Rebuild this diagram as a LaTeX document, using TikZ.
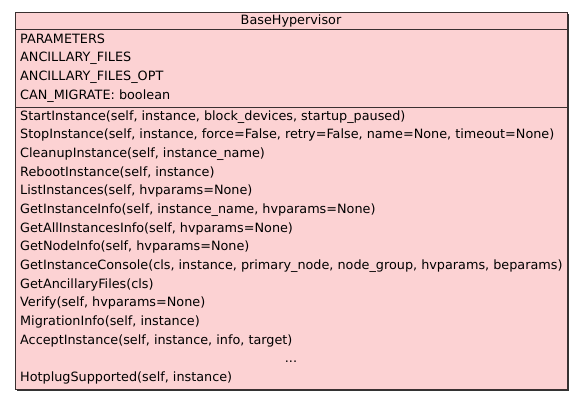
\documentclass[tikz,border=0pt]{standalone}
\usepackage{fontspec}
\setmainfont{DejaVu Sans}
\definecolor{boxfill}{HTML}{FCD2D3}
\definecolor{boxline}{HTML}{3A3030}
\begin{document}
\begin{tikzpicture}[x=1pt,y=-1pt,
  txt/.style={anchor=base west,inner sep=0pt,font=\fontsize{12.8}{15}\selectfont},
  ttl/.style={anchor=base,inner sep=0pt,font=\fontsize{12.8}{15}\selectfont}]
\useasboundingbox (0,0) rectangle (584,400);
\fill[black!80] (16.5,13.5) rectangle (568.5,390.5);
\draw[boxline,fill=boxfill,line width=1pt] (15,12) rectangle (567,389);
\draw[boxline,line width=1pt] (15,29) -- (567,29);
\draw[boxline,line width=1pt] (15,107) -- (567,107);
\node[ttl] (title) at (291,24.3) {BaseHypervisor};
\foreach \t [count=\i] in {PARAMETERS,ANCILLARY\_FILES,ANCILLARY\_FILES\_OPT,CAN\_MIGRATE: boolean}
  \node[txt] (a\i) at (20,{43.2+18.67*(\i-1)}) {\t};
\foreach \t [count=\i] in {
  StartInstance(self{,} instance{,} block\_devices{,} startup\_paused),
  StopInstance(self{,} instance{,} force=False{,} retry=False{,} name=None{,} timeout=None),
  CleanupInstance(self{,} instance\_name),
  RebootInstance(self{,} instance),
  ListInstances(self{,} hvparams=None),
  GetInstanceInfo(self{,} instance\_name{,} hvparams=None),
  GetAllInstancesInfo(self{,} hvparams=None),
  GetNodeInfo(self{,} hvparams=None),
  GetInstanceConsole(cls{,} instance{,} primary\_node{,} node\_group{,} hvparams{,} beparams),
  GetAncillaryFiles(cls),
  Verify(self{,} hvparams=None),
  MigrationInfo(self{,} instance),
  AcceptInstance(self{,} instance{,} info{,} target)}
  \node[txt] (m\i) at (20,{120+18.67*(\i-1)}) {\t};
\node[ttl] (dots) at (291,362.5) {...};
\node[txt] (hp) at (20,381.5) {HotplugSupported(self, instance)};
\end{tikzpicture}
\end{document}
